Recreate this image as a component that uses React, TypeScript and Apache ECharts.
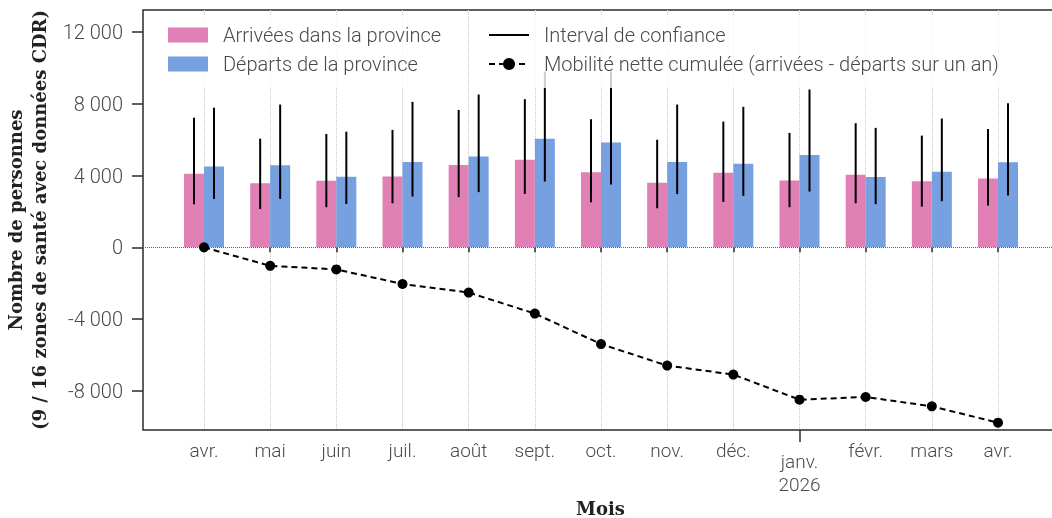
import React, { useEffect, useRef } from "react";
import * as echarts from "echarts";

const months = ["avr.", "mai", "juin", "juil.", "août", "sept.", "oct.", "nov.", "déc.", "janv.\n2026", "févr.", "mars", "avr."];
const arrivals = [4100, 3580, 3710, 3950, 4590, 4880, 4180, 3600, 4160, 3730, 4050, 3690, 3840];
const arrivalsLow = [2400, 2140, 2240, 2460, 2800, 2980, 2520, 2180, 2530, 2240, 2460, 2270, 2330];
const arrivalsHigh = [7220, 6060, 6320, 6550, 7660, 8260, 7140, 6000, 7010, 6380, 6920, 6230, 6600];
const departures = [4510, 4570, 3930, 4760, 5070, 6060, 5850, 4760, 4660, 5150, 3920, 4210, 4740];
const departuresLow = [2700, 2700, 2420, 2830, 3080, 3670, 3500, 2970, 2870, 3110, 2410, 2570, 2890];
const departuresHigh = [7780, 7960, 6450, 8110, 8520, 9800, 9800, 7960, 7830, 8800, 6660, 7180, 8030];
const netCumulative = [0, -1030, -1230, -2040, -2520, -3690, -5390, -6590, -7090, -8490, -8340, -8860, -9770];
const yTicks = [-8000, -4000, 0, 4000, 8000, 12000];
const Y_MIN = -10180;
const Y_MAX = 13230;

const PINK = "#E080B5";
const BLUE = "#76A0E0";
const TXT = "#4a4a4a";
const AXIS = "#2b2b2b";
const BAR_W = 20;

const fmt = (v: number) => {
  const s = String(Math.abs(v)).replace(/\B(?=(\d{3})+(?!\d))/g, " ");
  return (v < 0 ? "-" : "") + s;
};

const errSeries = (name: string, low: number[], high: number[], off: number) => ({
  name,
  type: "custom",
  xAxisIndex: 0,
  yAxisIndex: 0,
  z: 3,
  itemStyle: { color: "#000" },
  encode: { x: 0, y: [1, 2] },
  data: months.map((_, i) => [i, low[i], high[i]]),
  renderItem: (_p: any, api: any) => {
    const i = api.value(0);
    const lo = api.coord([i, api.value(1)]);
    const hi = api.coord([i, api.value(2)]);
    return {
      type: "line",
      shape: { x1: lo[0] + off, y1: lo[1], x2: hi[0] + off, y2: hi[1] },
      style: { stroke: "#000", lineWidth: 2 },
    };
  },
});

const labelFont = { fontFamily: "Roboto", fontWeight: 300, color: TXT };
const titleFont = { fontFamily: "DejaVu Serif", fontWeight: "bold", fontSize: 18, color: "#222", lineHeight: 24 };

export default function App() {
  const ref = useRef<HTMLDivElement>(null);
  useEffect(() => {
    if (!ref.current) return;
    const chart = echarts.init(ref.current, undefined, { renderer: "svg" });
    const legendCommon = {
      orient: "vertical",
      top: 15,
      z: 10,
      padding: [10, 12, 14, 10],
      itemWidth: 40,
      itemHeight: 15,
      itemGap: 9,
      backgroundColor: "rgba(255,255,255,0.8)",
      selectedMode: false,
      textStyle: { ...labelFont, fontSize: 20, lineHeight: 15, padding: [0, 0, 0, 10] },
    };
    chart.setOption({
      animation: false,
      grid: [
        { left: 204, right: 54, top: 10, bottom: 88, outerBoundsMode: "none" },
        {
          left: 143,
          right: -6,
          top: 10,
          bottom: 88,
          outerBoundsMode: "none",
          show: true,
          borderColor: AXIS,
          borderWidth: 1.5,
          backgroundColor: "transparent",
        },
      ],
      legend: [
        {
          ...legendCommon,
          left: 158,
          data: [
            { name: "Arrivées dans la province", icon: "rect" },
            { name: "Départs de la province", icon: "rect" },
          ],
        },
        {
          ...legendCommon,
          left: 478,
          data: [
            { name: "Interval de confiance", icon: "path://M0,0H40V2H0Z", itemStyle: { color: "#000" } },
            { name: "Mobilité nette cumulée (arrivées - départs sur un an)" },
          ],
        },
      ],
      xAxis: [
        {
          type: "category",
          gridIndex: 0,
          data: months,
          boundaryGap: false,
          axisLine: { show: false },
          axisTick: { show: true, interval: 0, length: 5, lineStyle: { color: AXIS, width: 1.5 } },
          axisLabel: {
            ...labelFont,
            fontSize: 19,
            margin: 11,
            interval: 0,
            formatter: (v: string) =>
              v.indexOf("\n") >= 0
                ? "{s| }\n" + v.split("\n").map((s, k) => (k === 0 ? "{j1|" + s + "}" : "{j2|" + s + "}")).join("\n")
                : v,
            rich: {
              s: { fontSize: 2, lineHeight: 8 },
              j1: { ...labelFont, fontSize: 19, lineHeight: 24 },
              j2: { ...labelFont, fontSize: 19, lineHeight: 22 },
            },
          },
          splitLine: { show: true, interval: 0, lineStyle: { color: "#c8c8c8", type: "dotted", width: 1 } },
        },
        {
          type: "category",
          gridIndex: 0,
          position: "bottom",
          data: months,
          boundaryGap: false,
          axisLine: { show: false },
          axisLabel: { show: false },
          axisTick: { show: true, length: 12, interval: (i: number) => i === 9, lineStyle: { color: AXIS, width: 1.5 } },
          splitLine: { show: false },
        },
        {
          type: "value",
          gridIndex: 1,
          min: 0,
          max: 1,
          axisLine: { show: false },
          axisTick: { show: false },
          axisLabel: { show: false },
          splitLine: { show: false },
          name: "Mois",
          nameLocation: "middle",
          nameGap: 69,
          nameTextStyle: { ...titleFont, lineHeight: 18 },
        },
      ],
      yAxis: [
        { type: "value", gridIndex: 0, min: Y_MIN, max: Y_MAX, show: false },
        {
          type: "value",
          gridIndex: 1,
          min: Y_MIN,
          max: Y_MAX,
          axisLine: { show: false },
          axisTick: { show: true, length: 11, customValues: yTicks, lineStyle: { color: AXIS, width: 1.5 } },
          axisLabel: { ...labelFont, fontSize: 20, margin: 20, customValues: yTicks, formatter: (v: number) => fmt(v) },
          splitLine: { show: false },
          name: "Nombre de personnes\n(9 / 16 zones de santé avec données CDR)",
          nameLocation: "middle",
          nameGap: 90,
          nameTextStyle: titleFont,
        },
      ],
      series: [
        {
          type: "line",
          xAxisIndex: 2,
          yAxisIndex: 1,
          data: [[0, 0]],
          showSymbol: false,
          silent: true,
          lineStyle: { opacity: 0 },
          markLine: {
            silent: true,
            symbol: "none",
            label: { show: false },
            lineStyle: { type: "dotted", color: "#666", width: 1 },
            data: [{ yAxis: 0 }],
          },
        },
        {
          name: "Arrivées dans la province",
          type: "bar",
          xAxisIndex: 0,
          yAxisIndex: 0,
          barWidth: BAR_W,
          barGap: "0%",
          itemStyle: { color: PINK },
          data: arrivals,
        },
        {
          name: "Départs de la province",
          type: "bar",
          xAxisIndex: 0,
          yAxisIndex: 0,
          barWidth: BAR_W,
          barGap: "0%",
          itemStyle: { color: BLUE },
          data: departures,
        },
        errSeries("Interval de confiance", arrivalsLow, arrivalsHigh, -BAR_W / 2),
        errSeries("Interval de confiance", departuresLow, departuresHigh, BAR_W / 2),
        {
          name: "Mobilité nette cumulée (arrivées - départs sur un an)",
          type: "line",
          xAxisIndex: 0,
          yAxisIndex: 0,
          z: 5,
          symbol: "circle",
          symbolSize: 10,
          itemStyle: { color: "#000" },
          lineStyle: { color: "#000", width: 2, type: [6, 4] },
          data: netCumulative,
        },
      ],
    });
    return () => chart.dispose();
  }, []);
  return <div ref={ref} style={{ position: "fixed", left: 0, top: 0, width: 1052, height: 518 }} />;
}
